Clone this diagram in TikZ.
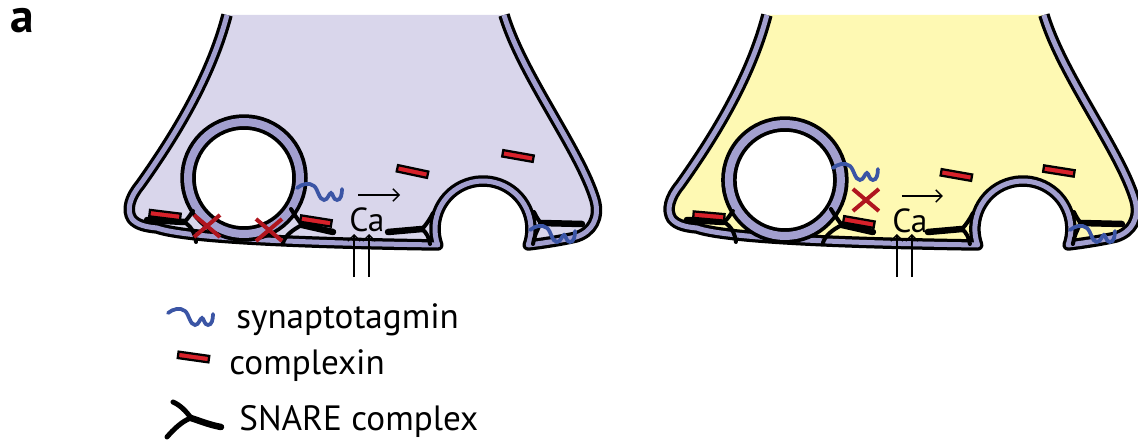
\documentclass[tikz,border=0pt]{standalone}
\usepackage{fontspec}
\setmainfont{PT Sans}
\usetikzlibrary{arrows.meta,calc}

\definecolor{lavfill}{HTML}{D9D6EB}
\definecolor{yelfill}{HTML}{FEF9B3}
\definecolor{membpurple}{HTML}{A29FCF}
\definecolor{cplxred}{HTML}{D8212A}
\definecolor{sytblue}{HTML}{3B55A5}
\definecolor{blockred}{HTML}{B0151E}

\tikzset{
  membout/.style={draw=black, line width=0.23cm, line join=round},
  membin/.style={draw=membpurple, line width=0.1cm, line join=round},
  vesout/.style={draw=black, line width=0.31cm},
  vesin/.style={draw=membpurple, line width=0.16cm},
  cplx/.style={draw=black, fill=cplxred, line width=0.045cm, minimum width=0.62cm,
    minimum height=0.13cm, inner sep=0pt},
  snaretail/.style={draw=black, line width=0.13cm, line cap=round},
  snarearm/.style={draw=black, line width=0.08cm, line cap=round},
  sytline/.style={draw=sytblue, line width=0.075cm, line cap=round},
  blockx/.style={draw=blockred, line width=0.08cm},
  thinarrow/.style={draw=black, line width=0.8pt, -{Straight Barb[length=3.5pt,width=7pt]}},
  lbl/.style={inner sep=0pt, anchor=base west, font=\fontsize{20}{22}\selectfont},
  ion/.style={inner sep=0pt, anchor=base west, font=\fontsize{19}{21}\selectfont},
  syt/.pic={\draw[sytline] (0,0) .. controls (5,-4) and (12,-6) .. (17,-2)
     .. controls (21,1) and (22,12) .. (27,12) .. controls (31,12) and (32,5) .. (34,5)
     .. controls (36,5) and (36,12) .. (40,12) .. controls (44,12) and (45,6) .. (45,1);},
  blockmark/.pic={\draw[blockx] (-13,-11) -- (13,11) (-13,11) -- (13,-11);},
}

% outline of the nerve terminal, with the fused (omega) vesicle on the right
\newcommand\terminalpath{(227,15) .. controls (210,80) and (172,140) .. (140,185)
  .. controls (130,197) and (126,210) .. (132,219)
  .. controls (137,225) and (146,227) .. (157,228)
  .. controls (185,238) and (300,243) .. (437.75,245)
  arc[start angle=199.5, end angle=-19.5, radius=0.96cm]
  .. controls (545,243) and (563,240) .. (576,237)
  .. controls (592,232) and (600,218) .. (595,200)
  .. controls (580,150) and (522,75) .. (504,15)}

% docked vesicle
\newcommand\vesicle[1]{%
  \fill[white] (#1) circle[radius=0.98cm];
  \draw[vesout] (#1) circle[radius=1.12cm];
  \draw[vesin] (#1) circle[radius=1.12cm];}

% SNARE complexes at both sides of the docked vesicle and of the fused one
\newcommand\snares{%
  \draw[snaretail] (147,220) -- (184,222);
  \draw[snarearm] (184,222) .. controls (188,219) and (190,215) .. (193,211);
  \draw[snarearm] (184,222) .. controls (191,226) and (195,233) .. (196,242);
  \draw[snaretail] (302,225) -- (333,232);
  \draw[snarearm] (302,225) .. controls (298,220) and (294,214) .. (291,209);
  \draw[snarearm] (302,225) .. controls (292,230) and (285,236) .. (283,243);
  \draw[snaretail] (388,232) -- (422,229);
  \draw[snarearm] (422,229) .. controls (426,225) and (430,219) .. (433,213);
  \draw[snarearm] (422,229) .. controls (427,233) and (429,238) .. (430,244);
  \draw[snaretail] (541,223) -- (582,224);
  \draw[snarearm] (541,223) .. controls (538,220) and (536,216) .. (534,212);
  \draw[snarearm] (541,223) .. controls (537,230) and (534,237) .. (533,244);}

\begin{document}
\begin{tikzpicture}[x=0.02cm, y=-0.02cm]
\useasboundingbox (0,0) rectangle (1138,442);
\clip (0,0) rectangle (1138,442);

\node[inner sep=0pt, anchor=base west, font=\bfseries\fontsize{27}{30}\selectfont]
  (panellabel) at (10,33) {a};

% ---- resting terminal ----
\fill[lavfill] \terminalpath -- cycle;
\draw[membout] \terminalpath;
\draw[membin] \terminalpath;
\coordinate (vesL) at (244,178);
\vesicle{vesL}
\snares
\node[cplx, rotate=-7] (cxLa) at (165,215) {};
\node[cplx, rotate=-9] (cxLb) at (316,221) {};
\node[cplx, rotate=-12] (cxLc) at (412.5,171.5) {};
\node[cplx, rotate=-10] (cxLd) at (518,156) {};
\pic (sytLa) at (297,188) {syt};
\pic (sytLb) at (530,230) {syt};
\pic (blkLa) at (207,226) {blockmark};
\pic (blkLb) at (269,230) {blockmark};
\coordinate (mvLa) at (358,195);
\coordinate (mvLb) at (400,195);
\draw[thinarrow] (mvLa) -- (mvLb);
\node[ion] (caL) at (349,231) {Ca};
\coordinate (inLa) at (354,277);
\coordinate (tipLa) at (354,234);
\coordinate (inLb) at (369,277);
\coordinate (tipLb) at (369,234);
\draw[thinarrow] (inLa) -- (tipLa);
\draw[thinarrow] (inLb) -- (tipLb);

% ---- second terminal ----
\begin{scope}[xshift=10.8cm]
\fill[yelfill] \terminalpath -- cycle;
\draw[membout] \terminalpath;
\draw[membin] \terminalpath;
\coordinate (vesR) at (245,180);
\vesicle{vesR}
\snares
\node[cplx, rotate=-5] (cxRa) at (169,216) {};
\node[cplx, rotate=-10] (cxRb) at (319,222) {};
\node[cplx, rotate=-10] (cxRc) at (416.5,175) {};
\node[cplx, rotate=-9] (cxRd) at (519,171) {};
\pic (sytRa) at (293,168) {syt};
\pic (sytRb) at (530,230) {syt};
\pic (blkR) at (326,200) {blockmark};
\coordinate (mvRa) at (362,196);
\coordinate (mvRb) at (403,196);
\draw[thinarrow] (mvRa) -- (mvRb);
\node[ion] (caR) at (352,232) {Ca};
\coordinate (inRa) at (357,277);
\coordinate (tipRa) at (357,234);
\coordinate (inRb) at (372,277);
\coordinate (tipRb) at (372,234);
\draw[thinarrow] (inRa) -- (tipRa);
\draw[thinarrow] (inRb) -- (tipRb);
\end{scope}

% ---- legend ----
\pic (sytKey) at (168,313) {syt};
\node[lbl] (sytText) at (236,328) {synaptotagmin};
\node[cplx, rotate=-8] (cxKey) at (193.5,357) {};
\node[lbl] (cxText) at (229,374) {complexin};
\coordinate (snJ) at (191,418);
\draw[snarearm, line width=0.1cm] (173,402) .. controls (180,405) and (186,411) .. (snJ);
\draw[snarearm, line width=0.1cm] (167,437) .. controls (173,430) and (182,421) .. (snJ);
\draw[snaretail] (snJ) .. controls (200,421) and (210,425) .. (221,427);
\node[lbl] (snText) at (239,430) {SNARE complex};
\end{tikzpicture}
\end{document}
